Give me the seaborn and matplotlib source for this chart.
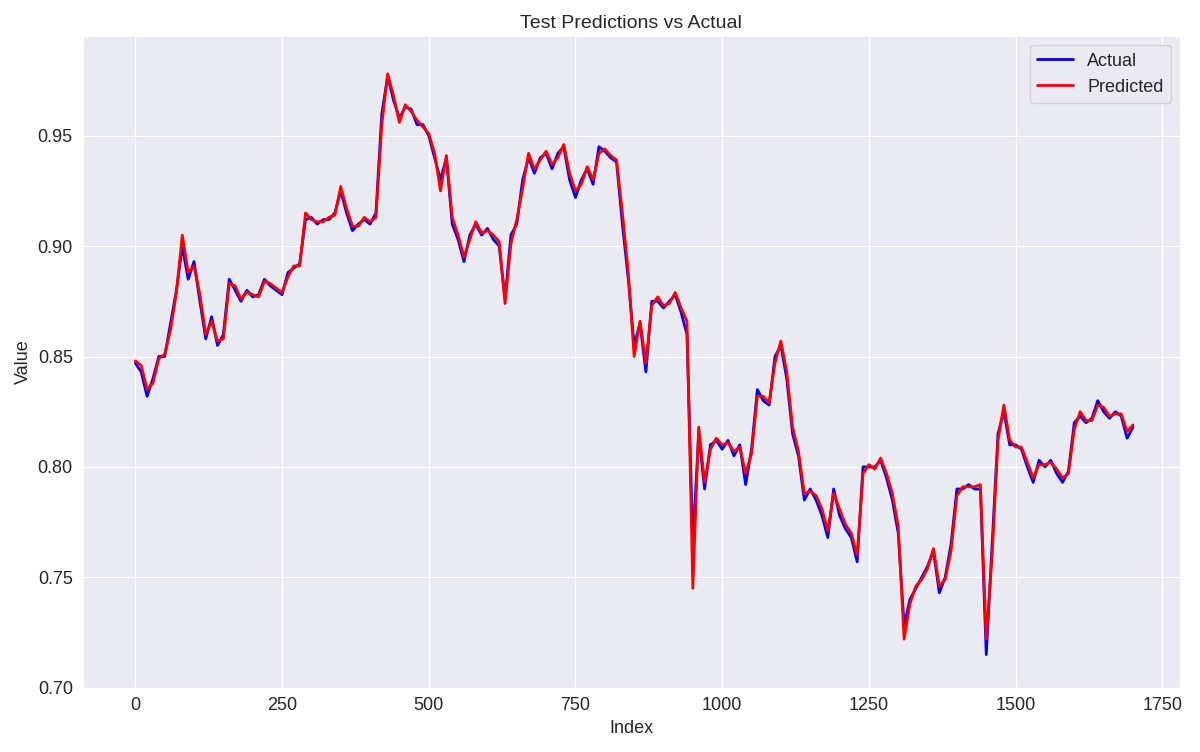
import matplotlib
matplotlib.use('Agg')
import matplotlib.pyplot as plt
import seaborn as sns
import pandas as pd

# values, one every 10 index steps
index = list(range(0, 1710, 10))
actual = [
    0.847, 0.843, 0.832, 0.840, 0.850, 0.850, 0.865, 0.880, 0.900, 0.885,
    0.893, 0.875, 0.858, 0.868, 0.855, 0.860, 0.885, 0.880, 0.875, 0.880,
    0.877, 0.878, 0.885, 0.882, 0.880, 0.878, 0.888, 0.890, 0.892, 0.912,
    0.913, 0.910, 0.912, 0.912, 0.915, 0.925, 0.915, 0.907, 0.910, 0.912,
    0.910, 0.915, 0.960, 0.977, 0.966, 0.958, 0.963, 0.962, 0.955, 0.955,
    0.950, 0.940, 0.930, 0.940, 0.910, 0.903, 0.893, 0.905, 0.910, 0.905,
    0.908, 0.903, 0.900, 0.876, 0.905, 0.910, 0.930, 0.940, 0.933, 0.940,
    0.942, 0.935, 0.942, 0.945, 0.930, 0.922, 0.930, 0.935, 0.928, 0.945,
    0.943, 0.940, 0.938, 0.910, 0.885, 0.855, 0.865, 0.843, 0.875, 0.875,
    0.872, 0.875, 0.878, 0.870, 0.860, 0.765, 0.815, 0.790, 0.810, 0.812,
    0.808, 0.812, 0.805, 0.810, 0.792, 0.808, 0.835, 0.830, 0.828, 0.850,
    0.855, 0.840, 0.815, 0.805, 0.785, 0.790, 0.785, 0.778, 0.768, 0.790,
    0.778, 0.772, 0.768, 0.757, 0.800, 0.800, 0.800, 0.803, 0.795, 0.785,
    0.770, 0.728, 0.740, 0.745, 0.750, 0.755, 0.762, 0.743, 0.750, 0.765,
    0.790, 0.790, 0.792, 0.790, 0.790, 0.715, 0.765, 0.815, 0.825, 0.810,
    0.810, 0.808, 0.800, 0.793, 0.803, 0.800, 0.803, 0.797, 0.793, 0.798,
    0.820, 0.823, 0.820, 0.822, 0.830, 0.825, 0.822, 0.825, 0.823, 0.813,
    0.818,
]
predicted = [
    0.848, 0.846, 0.835, 0.838, 0.849, 0.851, 0.862, 0.879, 0.905, 0.888,
    0.891, 0.878, 0.860, 0.866, 0.857, 0.858, 0.883, 0.882, 0.876, 0.879,
    0.878, 0.877, 0.884, 0.883, 0.881, 0.879, 0.886, 0.891, 0.891, 0.915,
    0.912, 0.911, 0.911, 0.913, 0.914, 0.927, 0.917, 0.909, 0.909, 0.913,
    0.911, 0.913, 0.955, 0.978, 0.968, 0.956, 0.964, 0.961, 0.957, 0.954,
    0.951, 0.942, 0.925, 0.941, 0.913, 0.905, 0.895, 0.903, 0.911, 0.906,
    0.907, 0.905, 0.902, 0.874, 0.901, 0.912, 0.926, 0.942, 0.935, 0.939,
    0.943, 0.937, 0.940, 0.946, 0.933, 0.925, 0.928, 0.936, 0.930, 0.942,
    0.944, 0.941, 0.939, 0.915, 0.888, 0.850, 0.866, 0.847, 0.873, 0.877,
    0.873, 0.874, 0.879, 0.872, 0.866, 0.745, 0.818, 0.793, 0.808, 0.813,
    0.810, 0.811, 0.807, 0.809, 0.797, 0.806, 0.832, 0.832, 0.829, 0.847,
    0.857, 0.843, 0.818, 0.807, 0.788, 0.789, 0.787, 0.781, 0.771, 0.788,
    0.781, 0.774, 0.770, 0.760, 0.797, 0.801, 0.799, 0.804, 0.797, 0.788,
    0.773, 0.722, 0.738, 0.746, 0.749, 0.754, 0.763, 0.746, 0.749, 0.762,
    0.787, 0.791, 0.791, 0.791, 0.792, 0.722, 0.760, 0.812, 0.828, 0.812,
    0.809, 0.809, 0.802, 0.795, 0.801, 0.801, 0.802, 0.799, 0.795, 0.797,
    0.817, 0.825, 0.821, 0.821, 0.828, 0.827, 0.823, 0.824, 0.824, 0.816,
    0.819,
]

df = pd.DataFrame({"Index": index, "Actual": actual, "Predicted": predicted})

sns.set_style("darkgrid")
plt.rcParams['font.family'] = ['Liberation Sans', 'DejaVu Sans']
fig, ax = plt.subplots(figsize=(12, 7.52), dpi=100)
sns.lineplot(data=df, x="Index", y="Actual", color="blue", label="Actual", lw=2, ax=ax)
sns.lineplot(data=df, x="Index", y="Predicted", color="red", label="Predicted", lw=2, ax=ax)
ax.set_ylim(0.70, 0.995)
ax.set_xlim(-90, 1780)
ax.set_xticks([0, 250, 500, 750, 1000, 1250, 1500, 1750])
ax.set_ylabel("Value", fontsize=13)
ax.set_xlabel("Index", fontsize=13)
ax.tick_params(labelsize=13)
ax.set_title("Test Predictions vs Actual", fontsize=14)
ax.legend(loc="upper right", fontsize=13)
plt.tight_layout()
plt.savefig("out.png", dpi=100)
